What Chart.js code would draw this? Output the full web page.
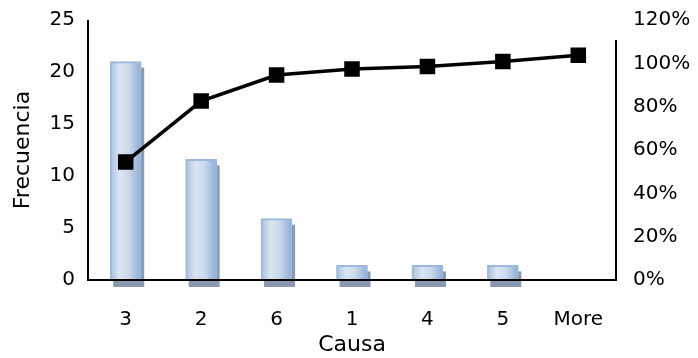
<!DOCTYPE html>
<html>
<head>
<meta charset="utf-8">
<script src="https://cdn.jsdelivr.net/npm/chart.js"></script>
<style>
  html, body { margin: 0; padding: 0; background: #fff; }
  #wrap { width: 698px; height: 358px; }
</style>
</head>
<body>
<div id="wrap"><canvas id="paretoChart" width="698" height="358"></canvas></div>
<script>
const causas = ['3', '2', '6', '1', '4', '5', 'More']
const frecuencia = [21, 11.6, 5.9, 1.4, 1.4, 1.4, 0]
const acumulado = [54.5, 82.6, 94.6, 97.4, 98.5, 100.8, 103.7]

const FONT = 'DejaVu Sans'

// gradient for each bar, light at left, darker blue at right
const barFill = (ctx) => {
    const chart = ctx.chart
    if (!chart.chartArea || !chart.scales.x) return '#c5d5ea'
    const x = chart.scales.x.getPixelForValue(ctx.dataIndex)
    const g = chart.ctx.createLinearGradient(x - 15, 0, x + 15, 0)
    g.addColorStop(0, '#a9c1e0')
    g.addColorStop(0.3, '#dbe5f2')
    g.addColorStop(0.6, '#cbd9ec')
    g.addColorStop(1, '#8eadd6')
    return g
}

// offset shadow behind each bar (uses the bar elements' own geometry)
const barShadow = {
    id: 'barShadow',
    beforeDatasetDraw(chart, args) {
        if (args.index !== 0) return
        const c = chart.ctx
        c.save()
        c.fillStyle = '#8a99b0'
        args.meta.data.forEach(bar => {
            const p = bar.getProps(['x', 'y', 'base', 'width'], true)
            const h = p.base - p.y
            if (h <= 0) return
            c.fillRect(p.x - p.width / 2 + 3, p.y + 6, p.width, h + 1)
        })
        c.restore()
    }
}

// axis lines like the original (right one stops short of the top)
const axisLines = {
    id: 'axisLines',
    afterDatasetDraw(chart, args) {
        if (args.index !== 0) return
        const {ctx, chartArea: a} = chart
        ctx.save()
        ctx.strokeStyle = '#000'
        ctx.lineWidth = 2
        ctx.beginPath()
        ctx.moveTo(a.left, a.top)
        ctx.lineTo(a.left, a.bottom)
        ctx.lineTo(a.right, a.bottom)
        ctx.lineTo(a.right, a.top + 20)
        ctx.stroke()
        ctx.restore()
    }
}

const data = {
    labels: causas,
    datasets: [
        {
            type: 'bar',
            data: frecuencia,
            yAxisID: 'y',
            backgroundColor: barFill,
            borderColor: '#9bb9dd',
            borderWidth: 2,
            barThickness: 31,
            clip: false,
            order: 2
        },
        {
            type: 'line',
            data: acumulado,
            yAxisID: 'y1',
            borderColor: '#000',
            borderWidth: 3.5,
            pointStyle: 'rect',
            pointRadius: 8.5,
            pointBackgroundColor: '#000',
            pointBorderColor: '#000',
            tension: 0,
            clip: false,
            order: 1
        }
    ]
}

const tickFont = {family: FONT, size: 20}
const titleFont = {family: FONT, size: 22}

const noPadV = s => { s.paddingTop = 0; s.paddingBottom = 0 }

const options = {
    responsive: false,
    animation: false,
    layout: {padding: {top: 20, left: 0, right: 0, bottom: 0}},
    plugins: {
        legend: {display: false},
        tooltip: {enabled: false}
    },
    scales: {
        x: {
            grid: {display: false, drawTicks: false},
            border: {display: false},
            ticks: {color: '#000', font: tickFont, padding: 28, maxRotation: 0},
            title: {display: true, text: 'Causa', color: '#000', font: titleFont, padding: {top: 0, bottom: 0}},
            afterFit: s => { s.height = 78; s.paddingLeft = 0; s.paddingRight = 0 }
        },
        y: {
            position: 'left',
            min: 0, max: 25,
            grid: {display: false, drawTicks: false},
            border: {display: false},
            ticks: {stepSize: 5, color: '#000', font: tickFont, padding: 13},
            title: {display: true, text: 'Frecuencia', color: '#000', font: titleFont, padding: {top: 10, bottom: 0}},
            afterFit: s => { s.width = 88; noPadV(s) }
        },
        y1: {
            position: 'right',
            min: 0, max: 120,
            grid: {display: false, drawTicks: false},
            border: {display: false},
            ticks: {stepSize: 20, color: '#000', font: tickFont, padding: 17, callback: v => v + '%'},
            afterFit: s => { s.width = 82; noPadV(s) }
        }
    }
}

new Chart('paretoChart', {data, options, plugins: [barShadow, axisLines]})
</script>
</body>
</html>
